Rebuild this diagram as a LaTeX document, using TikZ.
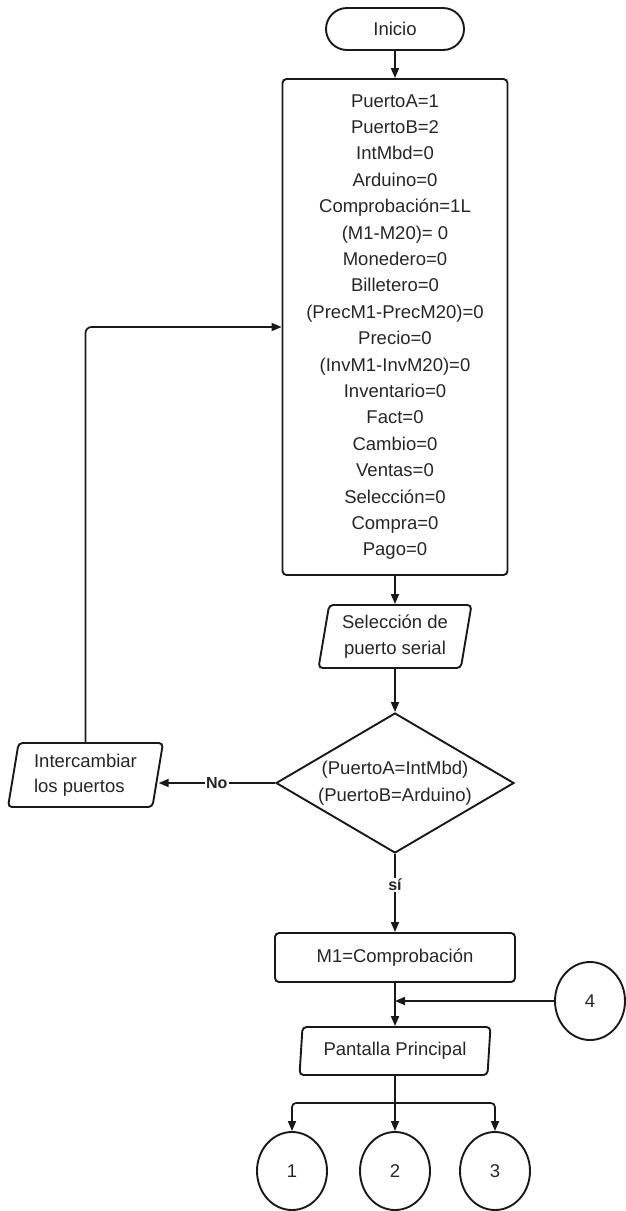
\documentclass[tikz,border=0pt]{standalone}
\usepackage{fontspec}
\setmainfont{Liberation Sans}
\usetikzlibrary{arrows.meta,shapes.geometric}

\tikzset{
  base/.style={draw=black!90, line width=1.9pt, text=black!85, align=center,
    inner sep=0pt, font=\fontsize{18.5}{25.3}\selectfont},
  term/.style={base, rectangle, rounded corners=21pt, minimum width=138pt, minimum height=42pt},
  procbox/.style={base, rectangle, rounded corners=4pt},
  iobox/.style={base, trapezium, trapezium left angle=76, trapezium right angle=104,
    trapezium stretches body, rounded corners=4pt},
  iowide/.style={iobox, trapezium left angle=80, trapezium right angle=100},
  decision/.style={base, diamond, aspect=1.7},
  conn/.style={base, ellipse, minimum width=70pt, minimum height=78pt},
  line/.style={line width=1.7pt, draw=black!90},
  flow/.style={line, -{Triangle[length=10pt,width=8pt]}},
  lbl/.style={fill=white, inner sep=1pt, text=black!85, font=\fontsize{16}{16}\selectfont\bfseries}
}

\begin{document}
\begin{tikzpicture}[x=1pt, y=-1pt]
\useasboundingbox (0,0) rectangle (625,1211);

% main column
\node[term] (start) at (395,29) {Inicio};
\node[procbox, minimum width=225pt, minimum height=496pt,
      font=\fontsize{18.5}{26.4}\selectfont] (init) at (395,327)
  {PuertoA=1\\PuertoB=2\\IntMbd=0\\Arduino=0\\Comprobación=1L\\(M1-M20)= 0\\Monedero=0\\Billetero=0\\(PrecM1-PrecM20)=0\\Precio=0\\(InvM1-InvM20)=0\\Inventario=0\\Fact=0\\Cambio=0\\Ventas=0\\Selección=0\\Compra=0\\Pago=0};
\node[iobox, minimum width=153pt, minimum height=63pt] (sel) at (395,636.5) {Selección de\\puerto serial};
\node[decision, minimum width=238pt, minimum height=140pt,
      font=\fontsize{18.5}{27}\selectfont] (dec) at (395,783) {(PuertoA=IntMbd)\\(PuertoB=Arduino)};
\node[iobox, align=left, minimum width=155pt, minimum height=64pt] (swap) at (85.5,775) {Intercambiar\\los puertos};
\node[procbox, minimum width=240pt, minimum height=49pt] (m1) at (395,957.5) {M1=Comprobación};
\node[iowide, minimum width=191pt, minimum height=48pt] (pant) at (395,1051) {Pantalla Principal};

% connectors
\node[conn] (c4) at (590,1001) {4};
\node[conn] (c1) at (292,1171) {1};
\node[conn] (c2) at (395,1171) {2};
\node[conn] (c3) at (495,1171) {3};

% flow lines
\draw[flow] (start) -- (init);
\draw[flow] (init) -- (sel);
\draw[flow] (sel) -- (dec);
\draw[flow] (dec.west) -- node[lbl] {No} (swap.east |- dec.west);
\draw[flow, rounded corners=6pt] (swap.north) |- (init.west);
\draw[flow] (dec.south) -- node[lbl, pos=0.4] {sí} (m1.north);
\draw[flow] (m1) -- (pant);
\coordinate (join) at (m1.south |- c4.west);
\draw[flow] (c4.west) -- (join);

\coordinate (split) at (395,1103);
\draw[line] (pant.south) -- (split);
\draw[flow, rounded corners=4pt] (split) -| (c1.north);
\draw[flow] (split) -- (c2.north);
\draw[flow, rounded corners=4pt] (split) -| (c3.north);
\end{tikzpicture}
\end{document}
